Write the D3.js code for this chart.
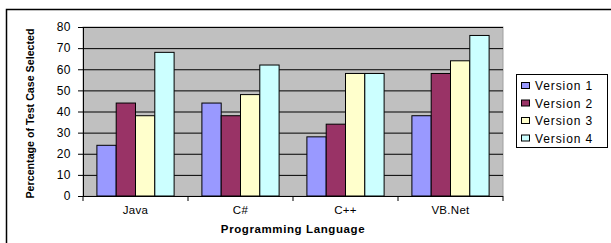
<!DOCTYPE html>
<html><head><meta charset="utf-8">
<script src="https://cdn.jsdelivr.net/npm/d3@7"></script>
<style>body{margin:0;background:#fff}svg{display:block}</style>
</head><body><svg id="c" width="611" height="243"></svg>
<script>
const categories = ["Java", "C#", "C++", "VB.Net"];
const seriesNames = ["Version 1", "Version 2", "Version 3", "Version 4"];
const version1 = [24, 44, 28, 38];
const version2 = [44, 38, 34, 58];
const version3 = [38, 48, 58, 64];
const version4 = [68, 62, 58, 76];
const yTicks = [0, 10, 20, 30, 40, 50, 60, 70, 80];
const colors = ["#9999ff", "#993366", "#ffffcc", "#ccffff"];
const series = [version1, version2, version3, version4];

const svg = d3.select("#c");
const font = "Liberation Sans, Arial, sans-serif";
const L = 83, R = 503, T = 27, B = 196;

// outer border
svg.append("path").attr("d", "M6.5,243 L6.5,9.5 L611,9.5").attr("fill", "none").attr("stroke", "#000").attr("stroke-width", 1.5);

const x0 = d3.scaleBand().domain(categories).range([L, R]).paddingInner(0).paddingOuter(0);
const x1 = d3.scaleBand().domain(seriesNames).range([0, x0.bandwidth()]).paddingInner(0).paddingOuter(0.72);
const y = d3.scaleLinear().domain([0, 80]).range([B, T]);

svg.append("rect").attr("x", L).attr("y", T).attr("width", R - L).attr("height", B - T).attr("fill", "#c0c0c0").attr("stroke", "#a0a0a0");

svg.append("g").selectAll("line").data(yTicks.filter(d => d > 0)).join("line")
  .attr("x1", L).attr("x2", R).attr("y1", d => y(d) + 0.5).attr("y2", d => y(d) + 0.5)
  .attr("stroke", "#000").attr("stroke-width", 1);

const g = svg.append("g");
categories.forEach((c, i) => {
  series.forEach((s, j) => {
    g.append("rect")
      .attr("x", x0(c) + x1(seriesNames[j]))
      .attr("y", y(s[i]))
      .attr("width", x1.bandwidth())
      .attr("height", B - y(s[i]))
      .attr("fill", colors[j]).attr("stroke", "#000").attr("stroke-width", 1);
  });
});

// y axis
const ya = svg.append("g").attr("transform", `translate(${L},0)`)
  .call(d3.axisLeft(y).tickValues(yTicks).tickSize(5).tickPadding(7));
ya.select(".domain").attr("stroke", "#000");
ya.selectAll("text").attr("font-family", font).attr("font-size", 12).attr("letter-spacing", 0.5).attr("fill", "#000");

// x axis
const xa = svg.append("g").attr("transform", `translate(0,${B})`);
xa.append("line").attr("x1", L - 5).attr("x2", R).attr("y1", 0.5).attr("y2", 0.5).attr("stroke", "#000");
xa.selectAll("line.t").data(categories.concat(["end"])).join("line").attr("class", "t")
  .attr("x1", (d, i) => L + i * x0.bandwidth()).attr("x2", (d, i) => L + i * x0.bandwidth())
  .attr("y1", 0).attr("y2", 5).attr("stroke", "#000");
xa.selectAll("text").data(categories).join("text")
  .attr("x", d => x0(d) + x0.bandwidth() / 2).attr("y", 18)
  .attr("text-anchor", "middle").attr("font-family", font).attr("font-size", 11.5).attr("letter-spacing", 0.3).text(d => d);

svg.append("text").attr("x", (L + R) / 2).attr("y", 233).attr("text-anchor", "middle")
  .attr("font-family", font).attr("font-size", 11.5).attr("font-weight", "bold")
  .attr("letter-spacing", 0.6).text("Programming Language");

svg.append("text").attr("transform", `translate(34,${(T + B) / 2 + 2}) rotate(-90)`)
  .attr("text-anchor", "middle").attr("font-family", font).attr("font-size", 10).attr("font-weight", "bold")
  .attr("textLength", 170).attr("lengthAdjust", "spacingAndGlyphs")
  .text("Percentage of Test Case Selected");

// legend
const lg = svg.append("g");
lg.append("rect").attr("x", 516.5).attr("y", 74.5).attr("width", 91).attr("height", 73).attr("fill", "#fff").attr("stroke", "#000");
seriesNames.forEach((n, i) => {
  const yy = 86 + i * 17.5;
  lg.append("rect").attr("x", 521.5).attr("y", yy - 3.5).attr("width", 8).attr("height", 6).attr("fill", colors[i]).attr("stroke", "#000");
  lg.append("text").attr("x", 535).attr("y", yy + 4).attr("font-family", font).attr("font-size", 12).attr("letter-spacing", 0.9).text(n);
});
</script></body></html>
